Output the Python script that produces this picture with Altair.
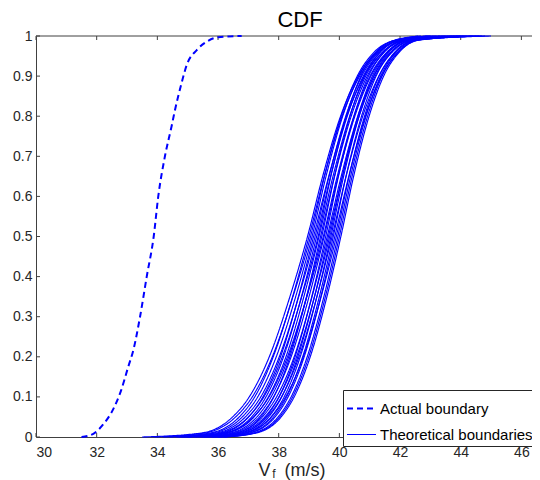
import altair as alt
import pandas as pd

# ---------------- data ----------------
X_TICKS = [30, 32, 34, 36, 38, 40, 42, 44, 46]
Y_TICKS = [0, 0.1, 0.2, 0.3, 0.4, 0.5, 0.6, 0.7, 0.8, 0.9, 1.0]

SERIES = ["Actual boundary", "Theoretical boundaries"]

ACTUAL_X = [31.50, 31.89, 32.20, 32.55, 32.80, 33.04, 33.21, 33.43, 33.65, 33.88,
            34.03, 34.25, 34.47, 34.58, 34.80, 34.97, 35.30, 35.63, 36.01, 36.78]
ACTUAL_Y = [0.000, 0.008, 0.030, 0.070, 0.115, 0.175, 0.217, 0.300, 0.400, 0.500,
            0.600, 0.700, 0.775, 0.815, 0.883, 0.928, 0.965, 0.986, 0.997, 1.000]

# CDF levels at which each theoretical curve's abscissa was read
THEORY_LEVELS = [0.0, 0.01, 0.05, 0.1, 0.2, 0.35, 0.5, 0.65, 0.8, 0.9, 0.96, 0.99, 1.0]

THEORY_CURVES_X = [
    [33.50, 35.46, 36.48, 37.03, 37.69, 38.37, 38.95, 39.45, 40.04, 40.62, 41.23, 41.97, 42.60],
    [34.20, 35.74, 36.70, 37.21, 37.82, 38.46, 39.00, 39.50, 40.09, 40.67, 41.28, 42.02, 42.90],
    [33.90, 35.56, 36.58, 37.13, 37.79, 38.47, 39.05, 39.51, 40.06, 40.59, 41.15, 41.84, 42.70],
    [34.60, 35.84, 36.80, 37.31, 37.92, 38.56, 39.10, 39.56, 40.11, 40.64, 41.20, 41.89, 43.00],
    [34.90, 36.13, 37.01, 37.48, 38.06, 38.65, 39.15, 39.65, 40.24, 40.82, 41.43, 42.17, 43.20],
    [34.40, 35.94, 36.90, 37.41, 38.02, 38.66, 39.20, 39.66, 40.21, 40.74, 41.30, 41.99, 43.00],
    [35.00, 36.23, 37.11, 37.58, 38.16, 38.75, 39.25, 39.71, 40.26, 40.79, 41.35, 42.04, 43.40],
    [34.70, 36.04, 37.00, 37.51, 38.12, 38.76, 39.30, 39.72, 40.23, 40.71, 41.23, 41.86, 43.10],
    [35.20, 36.31, 37.19, 37.66, 38.24, 38.83, 39.33, 39.79, 40.34, 40.87, 41.43, 42.12, 43.60],
    [35.50, 36.59, 37.41, 37.84, 38.37, 38.92, 39.38, 39.84, 40.39, 40.92, 41.48, 42.17, 43.30],
    [35.00, 36.40, 37.28, 37.75, 38.33, 38.92, 39.42, 39.84, 40.35, 40.83, 41.35, 41.98, 43.80],
    [34.80, 36.21, 37.17, 37.68, 38.29, 38.93, 39.47, 39.93, 40.48, 41.01, 41.57, 42.26, 43.50],
    [35.30, 36.48, 37.36, 37.83, 38.41, 39.00, 39.50, 39.96, 40.51, 41.04, 41.60, 42.29, 44.00],
    [35.70, 36.76, 37.58, 38.01, 38.54, 39.09, 39.55, 39.97, 40.48, 40.96, 41.48, 42.11, 43.70],
    [35.40, 36.58, 37.46, 37.93, 38.51, 39.10, 39.60, 40.06, 40.61, 41.14, 41.70, 42.39, 44.20],
    [35.80, 36.85, 37.67, 38.10, 38.63, 39.18, 39.64, 40.10, 40.65, 41.18, 41.74, 42.43, 43.90],
    [35.50, 36.66, 37.54, 38.01, 38.59, 39.18, 39.68, 40.10, 40.61, 41.09, 41.61, 42.24, 44.50],
    [35.90, 36.93, 37.75, 38.18, 38.71, 39.26, 39.72, 40.14, 40.65, 41.13, 41.65, 42.28, 44.10],
    [35.60, 36.74, 37.62, 38.09, 38.67, 39.26, 39.76, 40.22, 40.77, 41.30, 41.86, 42.55, 45.00],
    [36.00, 37.01, 37.83, 38.26, 38.79, 39.34, 39.80, 40.22, 40.73, 41.21, 41.73, 42.36, 44.30],
    [36.10, 37.06, 37.88, 38.31, 38.84, 39.39, 39.85, 40.31, 40.86, 41.39, 41.95, 42.64, 44.60],
    [35.80, 36.88, 37.76, 38.23, 38.81, 39.40, 39.90, 40.32, 40.83, 41.31, 41.83, 42.46, 44.00],
    [36.20, 37.16, 37.98, 38.41, 38.94, 39.49, 39.95, 40.37, 40.88, 41.36, 41.88, 42.51, 44.80],
    [36.00, 37.21, 38.03, 38.46, 38.99, 39.54, 40.00, 40.42, 40.93, 41.41, 41.93, 42.56, 44.40],
    [36.20, 37.26, 38.08, 38.51, 39.04, 39.59, 40.05, 40.47, 40.98, 41.46, 41.98, 42.61, 44.70],
]

# ---------------- build tables ----------------
rows = []
for x, y in zip(ACTUAL_X, ACTUAL_Y):
    rows.append({"curve": "actual", "series": SERIES[0], "x": x, "y": y})
for i, xs in enumerate(THEORY_CURVES_X):
    for x, y in zip(xs, THEORY_LEVELS):
        rows.append({"curve": f"t{i:02d}", "series": SERIES[1], "x": x, "y": y})
df = pd.DataFrame(rows)

W, H = 496, 401
BLUE = "#0000ff"
AXC = "#404040"
TXT = "#262626"
FONT = "Liberation Sans"

xscale = alt.Scale(domain=[30, 46.35], nice=False, zero=False)
yscale = alt.Scale(domain=[0, 1], nice=False, zero=False)
X_AXIS = alt.Axis(values=X_TICKS, title=None, labelPadding=8, format="d")
Y_AXIS = alt.Axis(values=Y_TICKS, title=None, labelPadding=4, format="~g")

top_border = alt.Chart(pd.DataFrame({"y": [1.0]})).mark_rule(color=AXC, strokeWidth=1).encode(
    y=alt.Y("y:Q", scale=yscale, axis=Y_AXIS), x=alt.value(0), x2=alt.value(W)
)

lines = alt.Chart(df).mark_line(color=BLUE, interpolate="monotone").encode(
    x=alt.X("x:Q", scale=xscale, axis=X_AXIS),
    y=alt.Y("y:Q", scale=yscale, axis=Y_AXIS),
    detail="curve:N",
    order=alt.Order("x:Q"),
    strokeDash=alt.StrokeDash(
        "series:N",
        scale=alt.Scale(domain=SERIES, range=[[6, 4], [1, 0]]),
        legend=alt.Legend(title=None, orient="none", legendX=307, legendY=354),
    ),
    strokeWidth=alt.StrokeWidth(
        "series:N",
        scale=alt.Scale(domain=SERIES, range=[2, 1.15]),
        legend=alt.Legend(title=None, orient="none", legendX=307, legendY=354),
    ),
)

tick_df_x = pd.DataFrame({"x": X_TICKS})
tick_df_y = pd.DataFrame({"y": Y_TICKS})
bottom_ticks = alt.Chart(tick_df_x).mark_rule(color=AXC, strokeWidth=1).encode(
    x=alt.X("x:Q", scale=xscale, axis=X_AXIS), y=alt.value(H), y2=alt.value(H - 4)
)
top_ticks = alt.Chart(tick_df_x).mark_rule(color=AXC, strokeWidth=1).encode(
    x=alt.X("x:Q", scale=xscale, axis=X_AXIS), y=alt.value(0), y2=alt.value(4)
)
left_ticks = alt.Chart(tick_df_y).mark_rule(color=AXC, strokeWidth=1).encode(
    y=alt.Y("y:Q", scale=yscale, axis=Y_AXIS), x=alt.value(0), x2=alt.value(4)
)

one = pd.DataFrame({"a": [0]})
title_cdf = alt.Chart(one).mark_text(text="CDF", font=FONT, fontSize=22, color="black",
                                     align="center", baseline="alphabetic").encode(
    x=alt.value(264), y=alt.value(-9))
title_v = alt.Chart(one).mark_text(text="V", font=FONT, fontSize=18, color=TXT,
                                   align="center", baseline="alphabetic").encode(
    x=alt.value(228.6), y=alt.value(440))
title_f = alt.Chart(one).mark_text(text="f", font=FONT, fontSize=12, color=TXT,
                                   align="center", baseline="alphabetic").encode(
    x=alt.value(238), y=alt.value(442))
title_unit = alt.Chart(one).mark_text(text="(m/s)", font=FONT, fontSize=18, color=TXT,
                                      align="center", baseline="alphabetic").encode(
    x=alt.value(269), y=alt.value(440))

chart = alt.layer(
    top_border, bottom_ticks, top_ticks, left_ticks, lines,
    title_cdf, title_v, title_f, title_unit
).properties(
    width=W, height=H,
    autosize=alt.AutoSizeParams(type="none"),
    padding={"left": 28, "top": 28, "right": 0, "bottom": 43},
).configure_view(stroke=None).configure_axis(
    grid=False, ticks=False, domainColor=AXC, domainWidth=1,
    labelFont=FONT, labelFontSize=14, labelColor=TXT,
).configure_legend(
    strokeColor=TXT, fillColor="white", padding=3, labelFont=FONT, labelFontSize=15,
    labelColor="black", symbolType="stroke", symbolSize=841, labelOffset=3, rowPadding=2,
    symbolStrokeColor=BLUE, cornerRadius=0,
)

chart.save("out.html", embed_options={"renderer": "svg", "actions": False})
